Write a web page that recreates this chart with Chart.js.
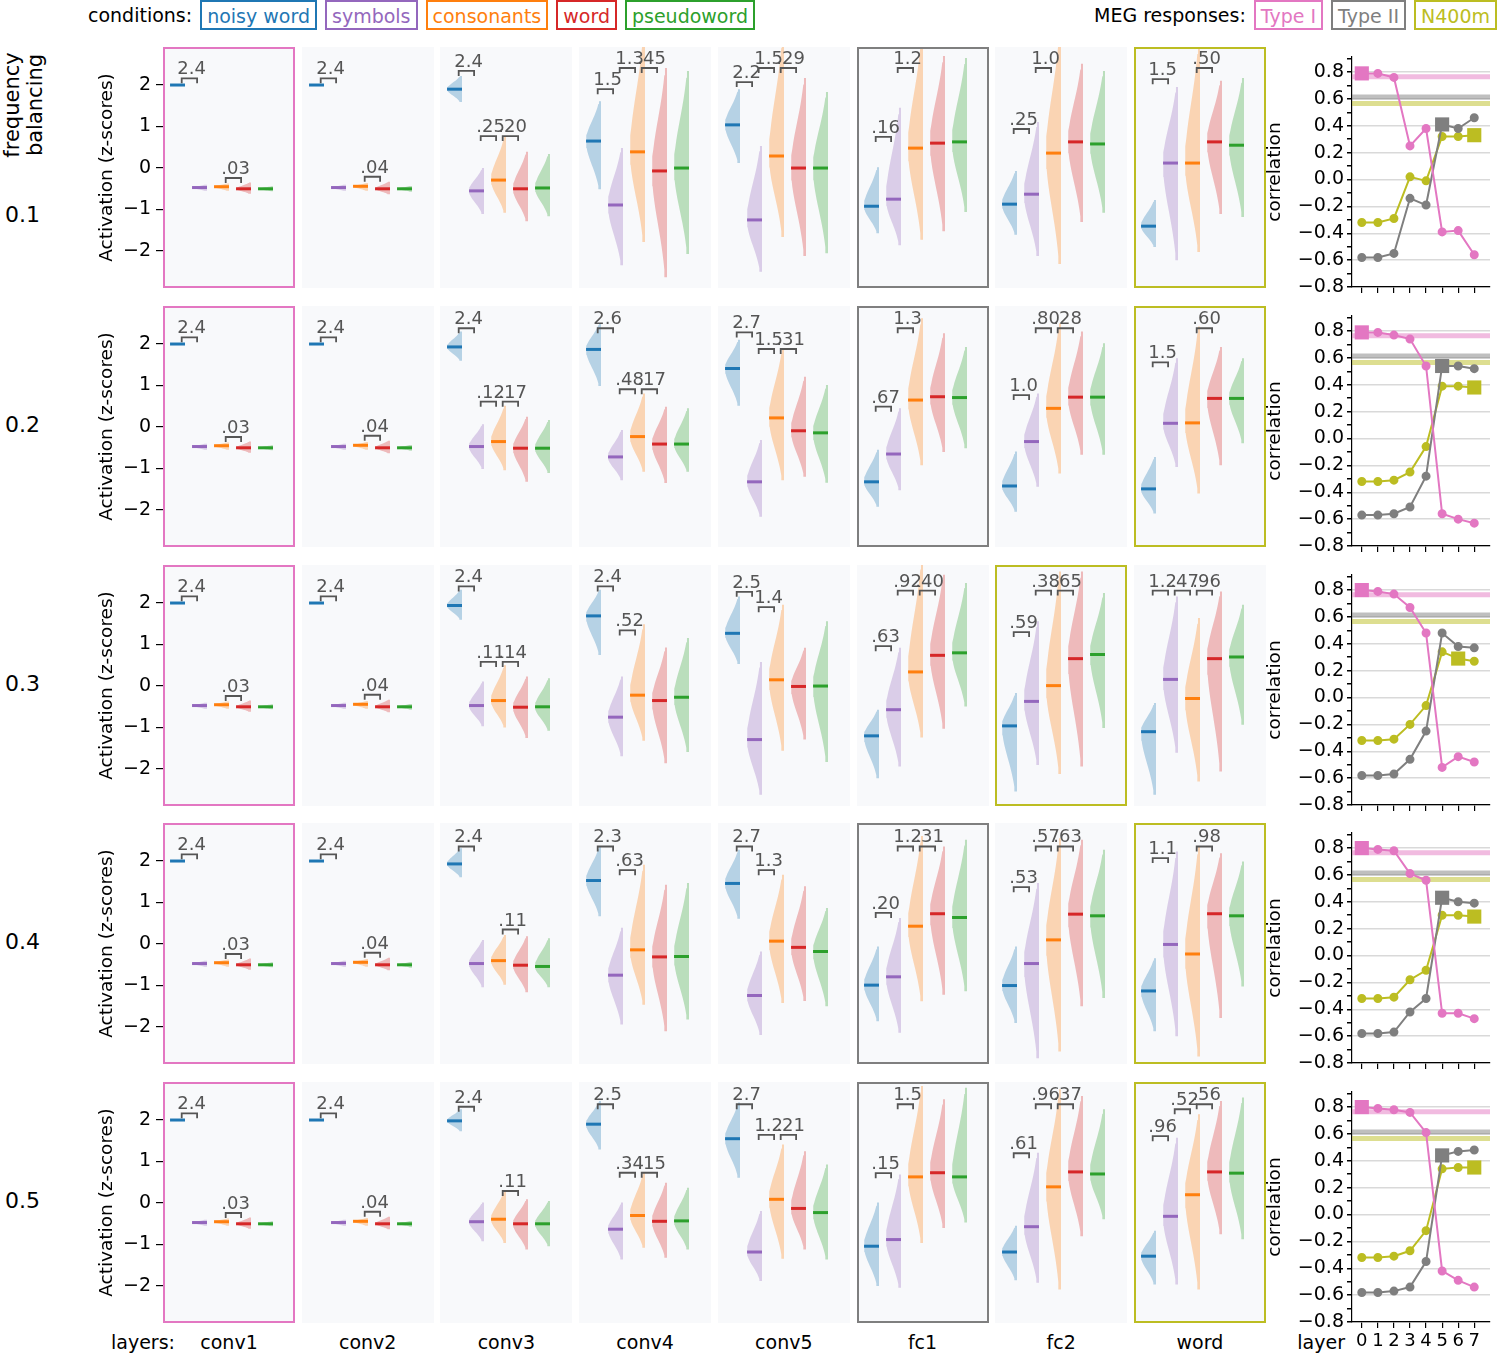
<!DOCTYPE html>
<html>
<head>
<meta charset="utf-8">
<script src="https://cdn.jsdelivr.net/npm/chart.js@4.4.0/dist/chart.umd.min.js"></script>
<style>
  body { margin: 0; background: #fff; font-family: "DejaVu Sans", sans-serif; }
  #fig { position: relative; width: 1500px; height: 1353px; overflow: hidden; background: #fff; }
  #fig canvas { position: absolute; }
  .t { position: absolute; white-space: nowrap; color: #000; line-height: 1; }
  .legend { position: absolute; top: 0; display: flex; align-items: center; gap: 8px; font-size: 19px; }
  .legend .box { border: 2px solid; height: 30px; line-height: 28px; padding: 0 5px; box-sizing: border-box; }
</style>
</head>
<body>
<div id="fig">
  <div id="condLegend" class="legend" style="left:88px"><span>conditions:</span></div>
  <div id="megLegend" class="legend" style="right:3px"><span>MEG responses:</span></div>
</div>
<script>
const layers = ['conv1', 'conv2', 'conv3', 'conv4', 'conv5', 'fc1', 'fc2', 'word'];
const conditions = ['noisy word', 'symbols', 'consonants', 'word', 'pseudoword'];
const balancing = ['0.1', '0.2', '0.3', '0.4', '0.5'];
const megNames = ['Type I', 'Type II', 'N400m'];
const zTicks = [-2, -1, 0, 1, 2];
const corrTicks = [-0.8, -0.7, -0.6, -0.5, -0.4, -0.3, -0.2, -0.1, 0, 0.1, 0.2, 0.3, 0.4, 0.5, 0.6, 0.7, 0.8, 0.9];
const layerTicks = [0, 1, 2, 3, 4, 5, 6, 7];

// violin medians / lower ends / upper ends: [row][layer][condition]
const medians = [
  [[2.0, -0.47, -0.45, -0.5, -0.5], [2.0, -0.47, -0.44, -0.5, -0.5], [1.9, -0.55, -0.29, -0.5, -0.48], [0.65, -0.89, 0.39, -0.07, 0.0],
   [1.04, -1.25, 0.29, 0.0, 0.0], [-0.92, -0.75, 0.48, 0.6, 0.63], [-0.87, -0.63, 0.36, 0.63, 0.58], [-1.4, 0.12, 0.12, 0.63, 0.55]],
  [[2.0, -0.47, -0.45, -0.5, -0.5], [2.0, -0.47, -0.44, -0.5, -0.5], [1.93, -0.47, -0.35, -0.51, -0.51], [1.87, -0.72, -0.23, -0.41, -0.41],
   [1.41, -1.32, 0.22, -0.09, -0.14], [-1.32, -0.65, 0.65, 0.73, 0.71], [-1.42, -0.35, 0.45, 0.72, 0.72], [-1.49, 0.09, 0.1, 0.69, 0.69]],
  [[2.0, -0.47, -0.45, -0.5, -0.5], [2.0, -0.47, -0.44, -0.5, -0.5], [1.94, -0.47, -0.35, -0.51, -0.5], [1.69, -0.75, -0.22, -0.35, -0.27],
   [1.27, -1.29, 0.15, -0.01, 0.0], [-1.2, -0.57, 0.34, 0.74, 0.8], [-0.96, -0.37, 0.01, 0.66, 0.76], [-1.1, 0.16, -0.3, 0.66, 0.7]],
  [[2.0, -0.47, -0.45, -0.5, -0.5], [2.0, -0.47, -0.44, -0.5, -0.5], [1.93, -0.47, -0.4, -0.51, -0.54], [1.53, -0.75, -0.14, -0.31, -0.3],
   [1.46, -1.24, 0.07, -0.08, -0.18], [-0.99, -0.79, 0.43, 0.73, 0.64], [-1.0, -0.47, 0.1, 0.72, 0.68], [-1.13, -0.01, -0.24, 0.73, 0.68]],
  [[2.0, -0.47, -0.45, -0.5, -0.5], [2.0, -0.47, -0.44, -0.5, -0.5], [1.98, -0.45, -0.39, -0.5, -0.5], [1.9, -0.63, -0.3, -0.44, -0.43],
   [1.55, -1.18, 0.09, -0.13, -0.23], [-1.04, -0.88, 0.63, 0.73, 0.63], [-1.18, -0.57, 0.39, 0.75, 0.7], [-1.28, -0.32, 0.2, 0.75, 0.72]]
];
const lows = [
  [[1.98, -0.55, -0.55, -0.62, -0.56], [1.98, -0.55, -0.55, -0.63, -0.57], [1.59, -1.11, -1.08, -1.28, -1.16], [-0.51, -2.34, -1.78, -2.63, -2.07],
   [0.12, -2.5, -1.66, -2.12, -2.05], [-1.57, -1.86, -1.73, -1.52, -1.06], [-1.61, -2.12, -2.31, -1.3, -1.08], [-1.9, -2.22, -2.02, -1.11, -1.18]],
  [[1.98, -0.55, -0.55, -0.62, -0.56], [1.98, -0.55, -0.55, -0.63, -0.57], [1.6, -1.01, -1.04, -1.32, -1.11], [0.99, -1.28, -1.08, -1.35, -1.08],
   [0.51, -2.16, -1.28, -1.2, -1.34], [-1.92, -1.52, -0.92, -0.6, -0.51], [-2.04, -1.44, -1.12, -0.67, -0.67], [-2.08, -0.96, -1.6, -0.92, -0.39]],
  [[1.98, -0.55, -0.55, -0.62, -0.56], [1.98, -0.55, -0.55, -0.63, -0.57], [1.6, -0.97, -1.0, -1.25, -1.08], [0.75, -1.69, -1.32, -1.86, -1.59],
   [0.53, -2.62, -1.56, -1.29, -1.83], [-2.22, -1.94, -1.24, -1.03, -0.49], [-2.54, -1.9, -2.12, -1.94, -1.01], [-2.62, -1.61, -2.3, -2.06, -0.93]],
  [[1.98, -0.55, -0.55, -0.62, -0.56], [1.98, -0.55, -0.55, -0.63, -0.57], [1.61, -1.04, -0.98, -1.16, -1.04], [0.67, -1.94, -1.46, -2.1, -1.82],
   [0.61, -2.19, -1.42, -1.37, -1.5], [-1.86, -2.14, -1.38, -1.22, -1.14], [-1.9, -2.75, -2.59, -1.5, -1.3], [-2.1, -2.22, -2.71, -1.78, -1.02]],
  [[1.98, -0.55, -0.55, -0.62, -0.56], [1.98, -0.55, -0.55, -0.63, -0.57], [1.73, -0.92, -0.96, -1.12, -1.04], [1.29, -1.36, -1.08, -1.32, -1.12],
   [0.61, -1.88, -1.34, -1.12, -1.36], [-2.0, -2.04, -0.96, -0.6, -0.47], [-1.86, -1.92, -2.08, -0.8, -0.39], [-1.96, -1.96, -2.08, -0.75, -0.87]]
];
const highs = [
  [[2.02, -0.4, -0.37, -0.35, -0.44], [2.02, -0.4, -0.36, -0.33, -0.43], [2.22, 0.0, 0.75, 0.39, 0.34], [1.61, 0.48, 3.2, 2.41, 2.34],
   [1.9, 0.53, 3.1, 2.17, 1.83], [0.02, 1.45, 3.1, 2.7, 2.65], [-0.07, 1.11, 3.2, 2.51, 2.34], [-0.77, 1.95, 2.95, 2.1, 2.17]],
  [[2.02, -0.4, -0.37, -0.35, -0.44], [2.02, -0.4, -0.36, -0.33, -0.43], [2.3, 0.07, 0.51, 0.25, 0.17], [2.5, -0.07, 0.81, 0.49, 0.45],
   [2.1, -0.31, 1.9, 1.21, 1.01], [-0.55, 0.45, 2.62, 2.26, 1.93], [-0.59, 0.81, 2.5, 2.3, 2.02], [-0.72, 1.66, 2.42, 1.93, 1.66]],
  [[2.02, -0.4, -0.37, -0.35, -0.44], [2.02, -0.4, -0.36, -0.33, -0.43], [2.32, 0.11, 0.5, 0.23, 0.19], [2.32, 0.23, 1.49, 0.93, 1.16],
   [2.16, 0.58, 1.96, 0.92, 1.56], [-0.57, 0.92, 3.0, 2.68, 2.48], [-0.17, 1.56, 2.76, 2.76, 2.24], [-0.41, 2.16, 1.64, 2.28, 1.96]],
  [[2.02, -0.4, -0.37, -0.35, -0.44], [2.02, -0.4, -0.36, -0.33, -0.43], [2.31, 0.1, 0.22, 0.19, 0.14], [2.35, 0.39, 1.91, 1.43, 1.47],
   [2.27, -0.18, 1.67, 1.39, 0.87], [-0.06, 0.63, 2.6, 2.35, 2.51], [-0.06, 1.47, 2.55, 2.51, 2.27], [-0.34, 2.23, 2.35, 2.19, 1.99]],
  [[2.02, -0.4, -0.37, -0.35, -0.44], [2.02, -0.4, -0.36, -0.33, -0.43], [2.26, 0.01, 0.29, 0.09, 0.05], [2.46, 0.01, 0.73, 0.49, 0.37],
   [2.42, -0.19, 1.41, 1.25, 0.93], [0.01, 0.69, 2.82, 2.5, 2.78], [-0.55, 1.21, 2.74, 2.58, 2.26], [-0.67, 1.57, 2.14, 2.46, 2.54]]
];

// effect size brackets: [row][layer] -> [left condition, height, label]
const brackets = [
  [[[0, 2.16, '2.4'], [2, -0.24, '.03']], [[0, 2.16, '2.4'], [2, -0.21, '.04']],
   [[0, 2.34, '2.4'], [1, 0.77, '.25'], [2, 0.77, '.20']], [[0, 1.9, '1.5'], [1, 2.41, '1.3'], [2, 2.41, '.45']],
   [[0, 2.07, '2.2'], [1, 2.41, '1.5'], [2, 2.41, '.29']], [[0, 0.75, '.16'], [1, 2.41, '1.2']],
   [[0, 0.94, '.25'], [1, 2.41, '1.0']], [[0, 2.14, '1.5'], [2, 2.41, '.50']]],
  [[[0, 2.16, '2.4'], [2, -0.24, '.03']], [[0, 2.16, '2.4'], [2, -0.21, '.04']],
   [[0, 2.38, '2.4'], [1, 0.61, '.12'], [2, 0.61, '.17']], [[0, 2.38, '2.6'], [1, 0.91, '.48'], [2, 0.91, '.17']],
   [[0, 2.28, '2.7'], [1, 1.88, '1.5'], [2, 1.88, '.31']], [[0, 0.49, '.67'], [1, 2.38, '1.3']],
   [[0, 0.77, '1.0'], [1, 2.38, '.80'], [2, 2.38, '.28']], [[0, 1.56, '1.5'], [2, 2.38, '.60']]],
  [[[0, 2.16, '2.4'], [2, -0.24, '.03']], [[0, 2.16, '2.4'], [2, -0.21, '.04']],
   [[0, 2.4, '2.4'], [1, 0.58, '.11'], [2, 0.58, '.14']], [[0, 2.4, '2.4'], [1, 1.34, '.52']],
   [[0, 2.27, '2.5'], [1, 1.9, '1.4']], [[0, 0.96, '.63'], [1, 2.3, '.92'], [2, 2.3, '.40']],
   [[0, 1.3, '.59'], [1, 2.3, '.38'], [2, 2.3, '.65']], [[0, 2.3, '1.2'], [1, 2.3, '.47'], [2, 2.3, '.96']]],
  [[[0, 2.16, '2.4'], [2, -0.24, '.03']], [[0, 2.16, '2.4'], [2, -0.21, '.04']],
   [[0, 2.35, '2.4'], [2, 0.35, '.11']], [[0, 2.35, '2.3'], [1, 1.78, '.63']],
   [[0, 2.35, '2.7'], [1, 1.78, '1.3']], [[0, 0.75, '.20'], [1, 2.35, '1.2'], [2, 2.35, '.31']],
   [[0, 1.37, '.53'], [1, 2.35, '.57'], [2, 2.35, '.63']], [[0, 2.07, '1.1'], [2, 2.35, '.98']]],
  [[[0, 2.16, '2.4'], [2, -0.24, '.03']], [[0, 2.16, '2.4'], [2, -0.21, '.04']],
   [[0, 2.32, '2.4'], [2, 0.29, '.11']], [[0, 2.38, '2.5'], [1, 0.73, '.34'], [2, 0.73, '.15']],
   [[0, 2.38, '2.7'], [1, 1.64, '1.2'], [2, 1.64, '.21']], [[0, 0.72, '.15'], [1, 2.38, '1.5']],
   [[0, 1.2, '.61'], [1, 2.38, '.96'], [2, 2.38, '.37']], [[0, 1.61, '.96'], [1, 2.26, '.52'], [2, 2.38, '.56']]]
];

// correlation with MEG responses: [row][layer]
const corrTypeI = [
  [0.79, 0.79, 0.76, 0.25, 0.38, -0.39, -0.38, -0.56],
  [0.79, 0.79, 0.77, 0.74, 0.54, -0.56, -0.60, -0.63],
  [0.80, 0.79, 0.77, 0.67, 0.48, -0.52, -0.44, -0.48],
  [0.80, 0.79, 0.78, 0.61, 0.56, -0.43, -0.43, -0.47],
  [0.80, 0.79, 0.78, 0.76, 0.61, -0.42, -0.49, -0.54]
];
const corrTypeII = [
  [-0.58, -0.58, -0.55, -0.14, -0.19, 0.41, 0.38, 0.46],
  [-0.57, -0.57, -0.56, -0.51, -0.28, 0.54, 0.54, 0.52],
  [-0.58, -0.58, -0.57, -0.46, -0.25, 0.48, 0.38, 0.37],
  [-0.58, -0.58, -0.57, -0.42, -0.32, 0.43, 0.40, 0.39],
  [-0.58, -0.58, -0.57, -0.54, -0.35, 0.44, 0.47, 0.48]
];
const corrN400 = [
  [-0.32, -0.32, -0.29, 0.02, -0.01, 0.32, 0.32, 0.33],
  [-0.32, -0.32, -0.31, -0.25, -0.06, 0.39, 0.39, 0.38],
  [-0.32, -0.32, -0.31, -0.20, -0.06, 0.34, 0.29, 0.27],
  [-0.32, -0.32, -0.31, -0.18, -0.11, 0.30, 0.30, 0.29],
  [-0.32, -0.32, -0.31, -0.27, -0.12, 0.34, 0.35, 0.35]
];
// best matching layer per row (null = none)
const bestTypeI = [0, 0, 0, 0, 0];
const bestTypeII = [5, 5, null, 5, 5];
const bestN400 = [7, 7, 6, 7, 7];
const noiseCeiling = [0.765, 0.615, 0.565];

// ---- styling / layout ----
const condColors = ['#1f77b4', '#9467bd', '#ff7f0e', '#d62728', '#2ca02c'];
const megColors = ['#e377c2', '#7f7f7f', '#bcbd22'];
const corrSeries = [corrTypeI, corrTypeII, corrN400];
const bestSeries = [bestTypeI, bestTypeII, bestN400];
const rowTop = [47, 306, 565, 823, 1082];
const panelX0 = 163, panelStep = 138.7, panelW = 132, panelH = 241;
const corrLeft = 1264, corrAreaLeft = 1352, corrAreaRight = 1492, corrH = 240;

Chart.defaults.font.family = '"DejaVu Sans", sans-serif';
Chart.defaults.font.size = 19;
Chart.defaults.color = '#000';

const fig = document.getElementById('fig');

function rgba(hex, a) {
  const n = parseInt(hex.slice(1), 16);
  return `rgba(${n >> 16},${(n >> 8) & 255},${n & 255},${a})`;
}
function minus(s, v) { return (v < 0 ? '\u2212' : '') + s; }

function makeCanvas(left, top, w, h) {
  const c = document.createElement('canvas');
  c.width = w; c.height = h;
  c.style.left = left + 'px'; c.style.top = top + 'px';
  c.style.width = w + 'px'; c.style.height = h + 'px';
  fig.appendChild(c);
  return c;
}
function addText(text, x, y, size, anchor) {
  const d = document.createElement('div');
  d.className = 't';
  d.textContent = text;
  d.style.left = x + 'px'; d.style.top = y + 'px'; d.style.fontSize = size + 'px';
  d.style.transform = anchor === 'center' ? 'translate(-50%,-50%)' : anchor === 'right' ? 'translate(-100%,-50%)' : 'translate(0,-50%)';
  fig.appendChild(d);
  return d;
}

// half violin: flat side at i+0.5, bulging left, peak at the median
function violinOutline(i, lo, hi, med) {
  const xr = i + 0.5, W = 0.68, n = 14;
  const sLo = Math.max(med - lo, 0.01) / 2.0, sHi = Math.max(hi - med, 0.01) / 2.0;
  const pts = [];
  for (let k = 0; k <= n; k++) {
    const v = lo + (med - lo) * k / n;
    pts.push({x: xr - W * Math.exp(-0.5 * ((v - med) / sLo) ** 2), y: v});
  }
  for (let k = 1; k <= n; k++) {
    const v = med + (hi - med) * k / n;
    pts.push({x: xr - W * Math.exp(-0.5 * ((v - med) / sHi) ** 2), y: v});
  }
  pts.push({x: xr, y: hi}, {x: xr, y: lo});
  return pts;
}

function panelPlugin(border) {
  return {
    id: 'panelFrame',
    beforeDraw(chart) {
      const a = chart.chartArea, ctx = chart.ctx;
      ctx.save();
      ctx.fillStyle = '#f8f9fb';
      ctx.fillRect(a.left, a.top, a.right - a.left, a.bottom - a.top);
      ctx.restore();
    },
    afterDraw(chart) {
      if (!border) return;
      const a = chart.chartArea, ctx = chart.ctx;
      ctx.save();
      ctx.strokeStyle = border; ctx.lineWidth = 2;
      ctx.strokeRect(a.left + 1, a.top + 1, a.right - a.left - 2, a.bottom - a.top - 2);
      ctx.restore();
    }
  };
}
function bracketTextPlugin(items) {
  return {
    id: 'bracketText',
    afterDatasetsDraw(chart) {
      const ctx = chart.ctx, xs = chart.scales.x, ys = chart.scales.y;
      ctx.save();
      ctx.font = '18px "DejaVu Sans"';
      ctx.fillStyle = '#555';
      ctx.textAlign = 'center';
      ctx.textBaseline = 'alphabetic';
      for (const [p, y, t] of items) {
        ctx.fillText(t, xs.getPixelForValue(p + 0.8), ys.getPixelForValue(y) - 4);
      }
      ctx.restore();
    }
  };
}

function violinPanel(r, l) {
  const withAxis = l === 0;
  const left = panelX0 + l * panelStep;
  const axisW = 67;
  const canvas = withAxis ? makeCanvas(left - axisW, rowTop[r], panelW + axisW, panelH)
                          : makeCanvas(left, rowTop[r], panelW, panelH);
  const ds = [];
  for (let c = 0; c < conditions.length; c++) {
    const med = medians[r][l][c];
    ds.push({
      data: violinOutline(c, lows[r][l][c], highs[r][l][c], med),
      fill: 'shape', backgroundColor: rgba(condColors[c], 0.3),
      borderColor: 'transparent', borderWidth: 1, pointRadius: 0, tension: 0, order: 3
    });
    ds.push({
      data: [{x: c - 0.18, y: med}, {x: c + 0.5, y: med}],
      borderColor: condColors[c], borderWidth: 3, pointRadius: 0, fill: false, order: 2
    });
  }
  for (const [p, y] of brackets[r][l]) {
    ds.push({
      data: [{x: p + 0.35, y: y - 0.12}, {x: p + 0.35, y: y}, {x: p + 1.05, y: y}, {x: p + 1.05, y: y - 0.12}],
      borderColor: '#555', borderWidth: 1.8, pointRadius: 0, fill: false, order: 1
    });
  }
  let border = '';
  bestSeries.forEach((b, m) => { if (b[r] === l) border = megColors[m]; });
  new Chart(canvas, {
    type: 'line',
    data: {datasets: ds},
    options: {
      responsive: false, animation: false, devicePixelRatio: 1, events: [],
      layout: {padding: 0},
      plugins: {legend: {display: false}, tooltip: {enabled: false}},
      scales: {
        x: {type: 'linear', min: -0.5, max: 5.5, display: false},
        y: {
          type: 'linear', min: -2.89, max: 2.916, display: withAxis,
          afterBuildTicks: s => { s.ticks = zTicks.map(v => ({value: v})); },
          ticks: {callback: v => minus(String(Math.abs(v)), v), padding: 5, color: '#000'},
          grid: {drawOnChartArea: false, drawTicks: true, tickLength: 7, tickColor: '#000', lineWidth: 1.2},
          border: {display: false},
          title: {display: true, text: 'Activation (z-scores)', font: {size: 18.5}, color: '#000', padding: {top: 0, bottom: 4}},
          afterFit: s => {
            if (!withAxis) return;
            s.width = axisW; s.paddingTop = 0; s.paddingBottom = 0;
          }
        }
      }
    },
    plugins: [panelPlugin(border), bracketTextPlugin(brackets[r][l])]
  });
}

function corrPanel(r) {
  const last = r === rowTop.length - 1;
  const xAxisH = last ? 32 : 14;
  const canvas = makeCanvas(corrLeft, rowTop[r], 1500 - corrLeft, corrH + xAxisH);
  const ds = [];
  noiseCeiling.forEach((v, m) => {
    ds.push({data: [{x: -0.61, y: v}, {x: 7.98, y: v}], borderColor: rgba(megColors[m], 0.5),
             borderWidth: 5, pointRadius: 0, fill: false, order: 10});
  });
  corrSeries.forEach((s, m) => {
    ds.push({data: layerTicks.map(k => ({x: k, y: s[r][k]})), borderColor: megColors[m],
             backgroundColor: megColors[m], pointBackgroundColor: megColors[m], pointBorderColor: megColors[m],
             borderWidth: 2, pointRadius: 3.5, fill: false, order: 5 + m});
  });
  bestSeries.forEach((b, m) => {
    if (b[r] === null) return;
    ds.push({data: [{x: b[r], y: corrSeries[m][r][b[r]]}], showLine: false, pointStyle: 'rect',
             pointRadius: 10, pointBackgroundColor: megColors[m], pointBorderColor: megColors[m],
             pointBorderWidth: 0, order: 1});
  });
  const isMajor = v => Math.round(v * 10) % 2 === 0;
  new Chart(canvas, {
    type: 'line',
    data: {datasets: ds},
    options: {
      responsive: false, animation: false, devicePixelRatio: 1, events: [],
      layout: {padding: {left: 0, right: 1500 - corrAreaRight, top: 0, bottom: 0}},
      plugins: {legend: {display: false}, tooltip: {enabled: false}},
      scales: {
        x: {
          type: 'linear', min: -0.61, max: 7.98,
          afterBuildTicks: s => { s.ticks = layerTicks.map(v => ({value: v})); },
          ticks: {display: last, autoSkip: false, maxRotation: 0, padding: 3, color: '#000', font: {size: 18}},
          grid: {drawOnChartArea: false, drawTicks: true, tickLength: 6, tickColor: '#000', lineWidth: 1.2},
          border: {display: true, color: '#000', width: 1.2},
          afterFit: s => { s.height = xAxisH; s.paddingLeft = 0; s.paddingRight = 0; }
        },
        y: {
          type: 'linear', min: -0.8, max: 0.912,
          afterBuildTicks: s => { s.ticks = corrTicks.map(v => ({value: v})); },
          ticks: {autoSkip: false, padding: 3, color: '#000',
                  callback: v => isMajor(v) ? minus(Math.abs(v).toFixed(1), v) : ''},
          grid: {drawTicks: true, tickLength: 5, tickColor: '#000', lineWidth: 1.5,
                 color: c => (c.tick && isMajor(c.tick.value)) ? '#d9d9d9' : 'rgba(0,0,0,0)'},
          border: {display: true, color: '#000', width: 1.2},
          title: {display: true, text: 'correlation', font: {size: 18.5}, color: '#000', padding: {top: 0, bottom: 4}},
          afterFit: s => { s.width = corrAreaLeft - corrLeft; s.paddingTop = 0; s.paddingBottom = 0; }
        }
      }
    }
  });
}

// legends
const condLegend = document.getElementById('condLegend');
conditions.forEach((c, i) => {
  const s = document.createElement('span');
  s.className = 'box'; s.textContent = c;
  s.style.color = condColors[i]; s.style.borderColor = condColors[i];
  condLegend.appendChild(s);
});
const megLegend = document.getElementById('megLegend');
megNames.forEach((c, i) => {
  const s = document.createElement('span');
  s.className = 'box'; s.textContent = c;
  s.style.color = megColors[i]; s.style.borderColor = megColors[i];
  megLegend.appendChild(s);
});

// row labels
const fb = addText('', 24, 105, 21, 'center');
fb.innerHTML = 'frequency<br>balancing';
fb.style.textAlign = 'center';
fb.style.lineHeight = '1.1';
fb.style.transform = 'translate(-50%,-50%) rotate(-90deg)';
balancing.forEach((b, r) => addText(b, 5, r === 0 ? 215 : rowTop[r] + 119, 22, 'left'));

// bottom labels
addText('layers:', 111, 1342, 19, 'left');
layers.forEach((name, l) => addText(name, panelX0 + l * panelStep + panelW / 2, 1342, 19, 'center'));
addText('layer', 1345, 1342, 19, 'right');

for (let r = 0; r < rowTop.length; r++) {
  for (let l = 0; l < layers.length; l++) violinPanel(r, l);
  corrPanel(r);
}
</script>
</body>
</html>
